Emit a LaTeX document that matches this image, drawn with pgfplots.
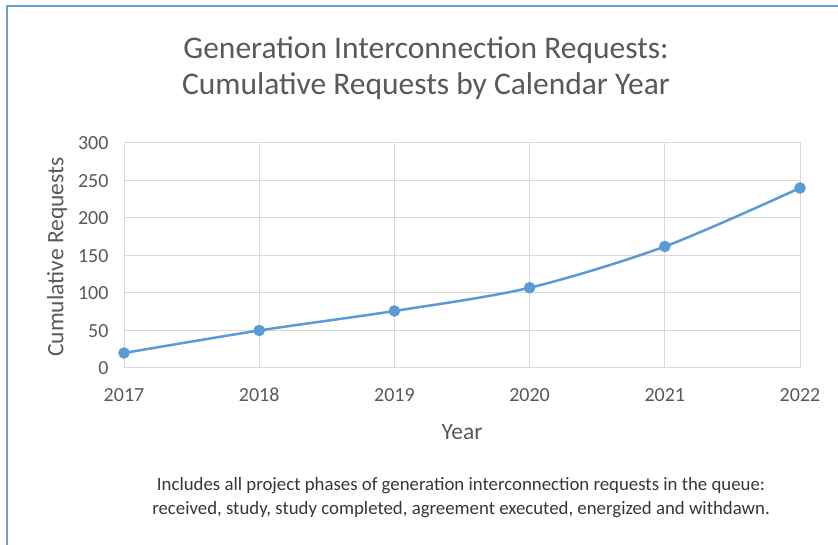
\documentclass[border=0pt]{standalone}
\usepackage{pgfplots}
\pgfplotsset{compat=1.18}
\usepackage{fontspec}
\setmainfont{Carlito}
\definecolor{serblue}{RGB}{91,155,213}
\definecolor{gridgray}{RGB}{217,217,217}
\definecolor{txtgray}{RGB}{89,89,89}
\definecolor{notegray}{RGB}{55,55,55}
\definecolor{frameblue}{RGB}{110,160,210}
\begin{document}
\begin{tikzpicture}[x=1pt,y=1pt]
\path[use as bounding box, fill=white] (0,0) rectangle (838,545);
\draw[frameblue, line width=2pt] (7,0) -- (7,539) -- (838,539);
\node[text=txtgray, font=\fontsize{31.5}{38}\selectfont, align=center] at (426,477) {Generation Interconnection Requests:\\[-2pt]Cumulative Requests by Calendar Year};
\begin{axis}[
  at={(124pt,177pt)}, anchor=south west,
  scale only axis, width=676pt, height=225pt,
  xmin=2017, xmax=2022, ymin=0, ymax=300,
  xtick={2017,2018,2019,2020,2021,2022},
  ytick={0,50,100,150,200,250,300},
  grid=major,
  major grid style={gridgray, line width=1pt},
  axis line style={gridgray, line width=1pt},
  major tick length=0pt,
  /pgf/number format/assume math mode=true,
  /pgf/number format/1000 sep={},
  tick label style={text=txtgray, font=\fontsize{20}{24}\selectfont},
  xticklabel style={anchor=base, yshift=-34pt},
  yticklabel style={anchor=base east, xshift=-12pt, yshift=-7pt},
  clip=false,
]
\addplot[serblue, line width=2.5pt, smooth, tension=0.5, mark=*, mark size=5.5pt, mark options={fill=serblue, draw=serblue, line width=0.5pt}]
coordinates {(2017,20) (2018,50) (2019,76) (2020,107) (2021,162) (2022,240)};
\end{axis}
\node[text=txtgray, font=\fontsize{23.5}{28}\selectfont] at (462,113) {Year};
\node[text=txtgray, font=\fontsize{23.5}{28}\selectfont, rotate=90] at (57,288) {Cumulative Requests};
\node[text=notegray, font=\fontsize{18.8}{24}\selectfont, align=center] at (461,47) {Includes all project phases of generation interconnection requests in the queue:\\received, study, study completed, agreement executed, energized and withdawn.};
\end{tikzpicture}
\end{document}
